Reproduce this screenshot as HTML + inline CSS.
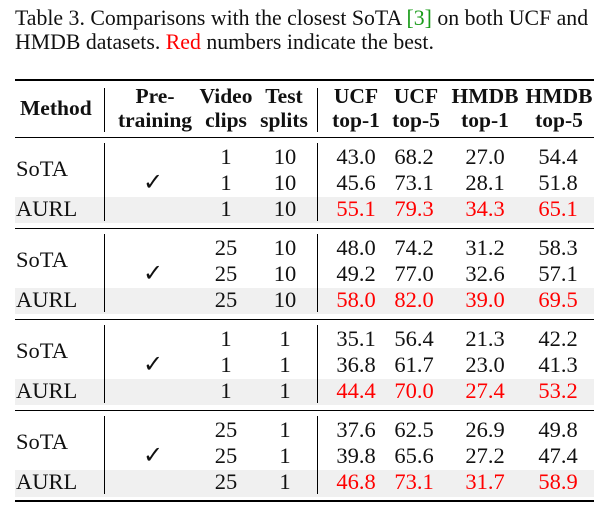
<!DOCTYPE html><html><head><style>
body{margin:0;width:608px;height:510px;background:#fff;position:relative;font-family:"Liberation Serif",serif;color:#111;overflow:hidden}
.t{position:absolute;white-space:nowrap;font-size:22.5px;line-height:22px;transform:translate(-50%,-50%)}
.l{position:absolute;white-space:nowrap;font-size:22.5px;line-height:22px;transform:translateY(-50%)}
.b{font-weight:bold;font-size:21.5px}
.r{color:#f00}
.h{position:absolute;left:15px;width:579px;background:#000}
.v{position:absolute;width:1px;background:#000}
.sh{position:absolute;left:15px;width:579px;background:#f0f0f0}
.cap{position:absolute;left:15px;font-size:21.8px;line-height:24px}
</style></head><body>
<div class="cap" style="top:6px">Table 3. Comparisons with the closest SoTA <span style="color:#1a9c1a">[3]</span> on both UCF and</div>
<div class="cap" style="top:30px">HMDB datasets. <span class="r">Red</span> numbers indicate the best.</div>
<div class="h" style="top:79px;height:2px"></div>
<div class="h" style="top:137px;height:1px"></div>
<div class="h" style="top:228px;height:1px"></div>
<div class="h" style="top:319px;height:1px"></div>
<div class="h" style="top:410px;height:1px"></div>
<div class="sh" style="top:197px;height:26px"></div>
<div class="sh" style="top:288px;height:26px"></div>
<div class="sh" style="top:379px;height:26px"></div>
<div class="sh" style="top:470px;height:27px"></div>
<div class="h" style="top:500px;height:2px"></div>
<div class="v" style="left:104px;top:88px;height:44px"></div>
<div class="v" style="left:317px;top:88px;height:44px"></div>
<div id="rows"></div>
<div class="l b" style="left:20px;top:108px">Method</div>
<div class="t b" style="left:155px;top:96px">Pre-</div>
<div class="t b" style="left:155px;top:120px">training</div>
<div class="t b" style="left:226px;top:96px">Video</div>
<div class="t b" style="left:226px;top:120px">clips</div>
<div class="t b" style="left:284px;top:96px">Test</div>
<div class="t b" style="left:284px;top:120px">splits</div>
<div class="t b" style="left:356px;top:96px">UCF</div>
<div class="t b" style="left:356px;top:120px">top-1</div>
<div class="t b" style="left:416px;top:96px">UCF</div>
<div class="t b" style="left:416px;top:120px">top-5</div>
<div class="t b" style="left:485px;top:96px">HMDB</div>
<div class="t b" style="left:485px;top:120px">top-1</div>
<div class="t b" style="left:559px;top:96px">HMDB</div>
<div class="t b" style="left:559px;top:120px">top-5</div>
<script>
var data=[["1","10",["43.0","68.2","27.0","54.4"],["45.6","73.1","28.1","51.8"],["55.1","79.3","34.3","65.1"]],
["25","10",["48.0","74.2","31.2","58.3"],["49.2","77.0","32.6","57.1"],["58.0","82.0","39.0","69.5"]],
["1","1",["35.1","56.4","21.3","42.2"],["36.8","61.7","23.0","41.3"],["44.4","70.0","27.4","53.2"]],
["25","1",["37.6","62.5","26.9","49.8"],["39.8","65.6","27.2","47.4"],["46.8","73.1","31.7","58.9"]]];
var xs=[356,414,485,558],h="";
data.forEach(function(b,i){var y0=157+91*i;
h+='<div class="v" style="left:104px;top:'+(y0-14)+'px;height:78px"></div><div class="v" style="left:317px;top:'+(y0-14)+'px;height:78px"></div>';
h+='<div class="l" style="left:16px;top:'+(y0+12)+'px">SoTA</div><div class="l" style="left:16px;top:'+(y0+52)+'px">AURL</div>';
h+='<div class="t" style="left:153px;top:'+(y0+26)+'px;font-size:24px">✓</div>';
for(var r=0;r<3;r++){var y=y0+26*r;
h+='<div class="t" style="left:226px;top:'+y+'px">'+b[0]+'</div><div class="t" style="left:285px;top:'+y+'px">'+b[1]+'</div>';
b[2+r].forEach(function(v,k){h+='<div class="t'+(r==2?' r':'')+'" style="left:'+xs[k]+'px;top:'+y+'px">'+v+'</div>';});}
});
document.getElementById('rows').innerHTML=h;
</script>
</body></html>
